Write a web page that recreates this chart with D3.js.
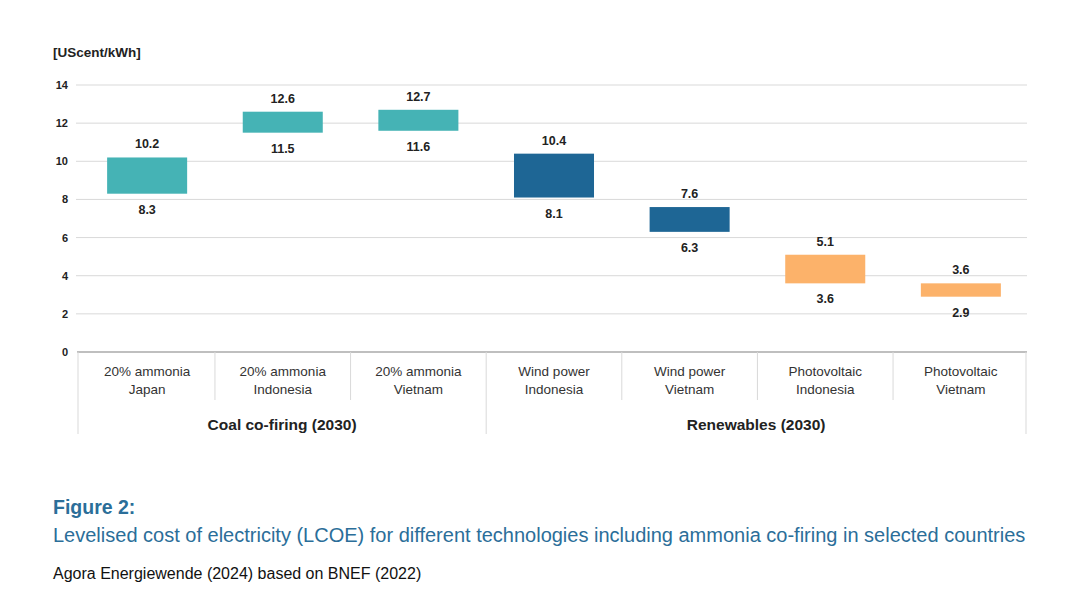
<!DOCTYPE html>
<html>
<head>
<meta charset="utf-8">
<script src="https://cdn.jsdelivr.net/npm/d3@7"></script>
<style>
  body { margin: 0; background: #fff; font-family: "Liberation Sans", Arial, sans-serif; }
</style>
</head>
<body>
<div id="chart"></div>
<script>
// data
var line1 = ["20% ammonia", "20% ammonia", "20% ammonia", "Wind power", "Wind power", "Photovoltaic", "Photovoltaic"];
var line2 = ["Japan", "Indonesia", "Vietnam", "Indonesia", "Vietnam", "Indonesia", "Vietnam"];
var lowVals = [8.3, 11.5, 11.6, 8.1, 6.3, 3.6, 2.9];
var highVals = [10.2, 12.6, 12.7, 10.4, 7.6, 5.1, 3.6];
var tech = ["ammonia", "ammonia", "ammonia", "wind", "wind", "pv", "pv"];
var groups = ["Coal co-firing (2030)", "Renewables (2030)"];
var groupSpan = [[0, 2], [3, 6]];
var yTicks = [0, 2, 4, 6, 8, 10, 12, 14];

var colors = { ammonia: "#45b3b5", wind: "#1e6695", pv: "#fcb26a" };

var width = 1066, height = 615;

var svg = d3.select("#chart").append("svg")
    .attr("width", width)
    .attr("height", height);

var idx = d3.range(lowVals.length);

var x = d3.scaleBand()
    .domain(idx)
    .range([80, 1028])
    .paddingInner(0.41)
    .paddingOuter(0.2);

var y = d3.scaleLinear()
    .domain([0, 14])
    .range([352, 85]);

// gridlines
svg.append("g")
  .selectAll("line")
  .data(yTicks.filter(d => d > 0))
  .join("line")
    .attr("x1", 76)
    .attr("x2", 1027)
    .attr("y1", d => y(d))
    .attr("y2", d => y(d))
    .attr("stroke", "#d9d9d9")
    .attr("stroke-width", 1);

// y axis labels
var yAxis = svg.append("g")
    .attr("transform", "translate(68,0)")
    .call(d3.axisLeft(y).tickValues(yTicks).tickSize(0).tickPadding(0));
yAxis.select(".domain").remove();
yAxis.selectAll("text")
    .attr("font-family", "Liberation Sans, Arial, sans-serif")
    .attr("font-size", 11)
    .attr("font-weight", "bold")
    .attr("fill", "#222");

svg.append("text")
    .attr("x", 53)
    .attr("y", 57)
    .attr("font-size", 13.5)
    .attr("font-weight", "bold")
    .attr("fill", "#222")
    .text("[UScent/kWh]");

// bars
svg.append("g")
  .selectAll("rect")
  .data(idx)
  .join("rect")
    .attr("x", i => x(i))
    .attr("width", x.bandwidth())
    .attr("y", i => y(highVals[i]))
    .attr("height", i => y(lowVals[i]) - y(highVals[i]))
    .attr("fill", i => colors[tech[i]]);

// value labels
var vl = svg.append("g")
    .attr("font-size", 12.5)
    .attr("font-weight", "bold")
    .attr("fill", "#222")
    .attr("text-anchor", "middle");

vl.selectAll("text.hi")
  .data(idx)
  .join("text")
    .attr("class", "hi")
    .attr("x", i => x(i) + x.bandwidth() / 2)
    .attr("y", i => y(highVals[i]) - 9)
    .text(i => highVals[i].toFixed(1));

vl.selectAll("text.lo")
  .data(idx)
  .join("text")
    .attr("class", "lo")
    .attr("x", i => x(i) + x.bandwidth() / 2)
    .attr("y", i => y(lowVals[i]) + 20)
    .text(i => lowVals[i].toFixed(1));

// baseline
svg.append("line")
    .attr("x1", 77)
    .attr("x2", 1027)
    .attr("y1", y(0))
    .attr("y2", y(0))
    .attr("stroke", "#bfbfbf")
    .attr("stroke-width", 2);

// category dividers
var step = x.step();
var catEdges = idx.map(i => x(i) - (step - x.bandwidth()) / 2);
catEdges.push(x(idx.length - 1) + x.bandwidth() + (step - x.bandwidth()) / 2);
catEdges[0] = 78;
catEdges[catEdges.length - 1] = 1026;

var groupEdges = [0, 3, 7];
svg.append("g")
  .selectAll("line")
  .data(d3.range(catEdges.length))
  .join("line")
    .attr("x1", k => catEdges[k])
    .attr("x2", k => catEdges[k])
    .attr("y1", y(0))
    .attr("y2", k => groupEdges.includes(k) ? 434 : 400)
    .attr("stroke", "#d9d9d9")
    .attr("stroke-width", 1);

// category labels
var cl = svg.append("g")
    .attr("font-size", 13.5)
    .attr("fill", "#333")
    .attr("text-anchor", "middle");

cl.selectAll("text.l1")
  .data(idx)
  .join("text")
    .attr("x", i => x(i) + x.bandwidth() / 2)
    .attr("y", 376)
    .text(i => line1[i]);

cl.selectAll("text.l2")
  .data(idx)
  .join("text")
    .attr("x", i => x(i) + x.bandwidth() / 2)
    .attr("y", 394)
    .text(i => line2[i]);

// group labels
svg.append("g")
  .selectAll("text")
  .data(groups)
  .join("text")
    .attr("x", (g, k) => (catEdges[groupSpan[k][0]] + catEdges[groupSpan[k][1] + 1]) / 2)
    .attr("y", 430)
    .attr("text-anchor", "middle")
    .attr("font-size", 15.5)
    .attr("font-weight", "bold")
    .attr("fill", "#222")
    .text(g => g);

// caption
svg.append("text")
    .attr("x", 53)
    .attr("y", 514)
    .attr("font-size", 19.5)
    .attr("font-weight", "bold")
    .attr("fill", "#2b6e99")
    .text("Figure 2:");

svg.append("text")
    .attr("x", 53)
    .attr("y", 542)
    .attr("font-size", 20)
    .attr("fill", "#2b6e99")
    .text("Levelised cost of electricity (LCOE) for different technologies including ammonia co-firing in selected countries");

svg.append("text")
    .attr("x", 53)
    .attr("y", 579)
    .attr("font-size", 16)
    .attr("fill", "#111")
    .text("Agora Energiewende (2024) based on BNEF (2022)");
</script>
</body>
</html>
